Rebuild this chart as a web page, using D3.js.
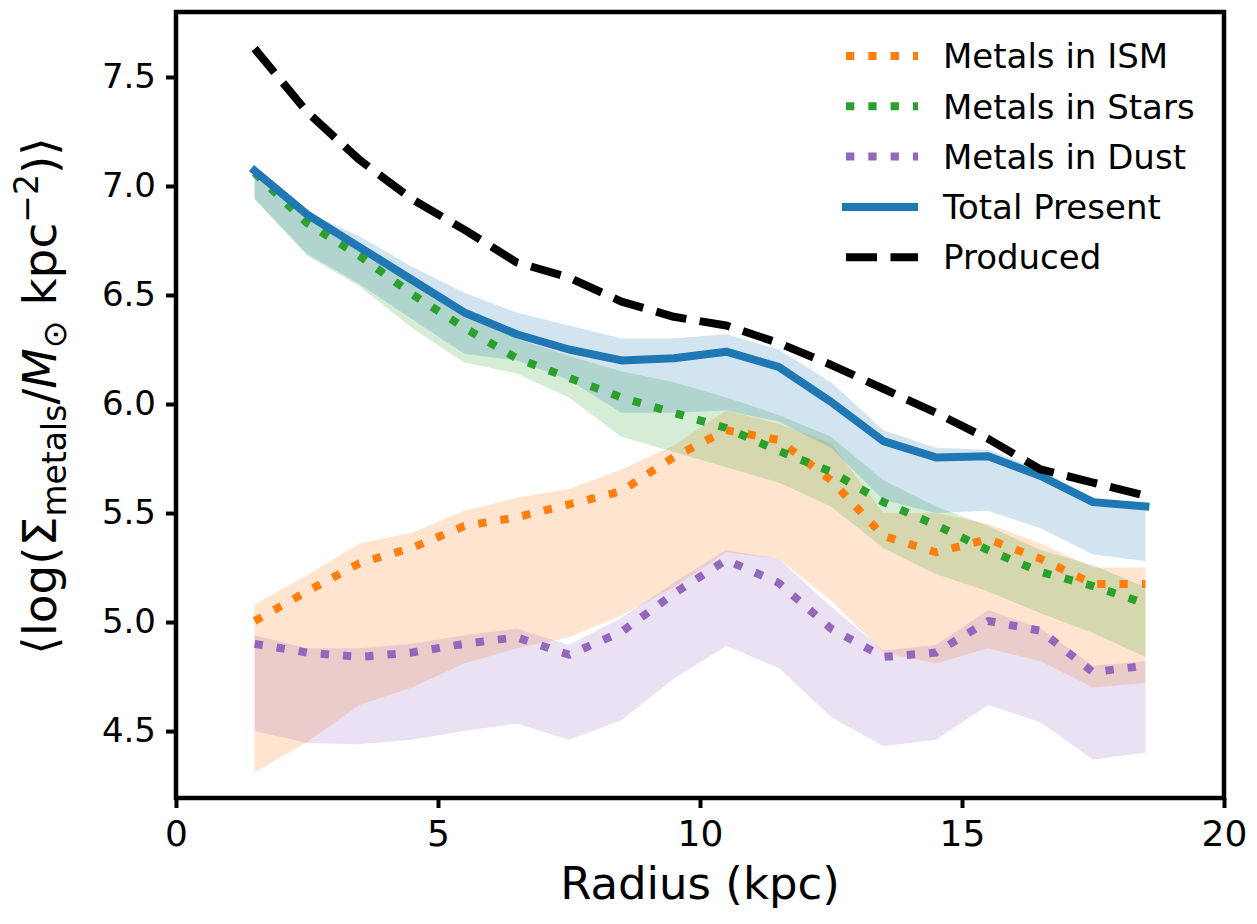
<!DOCTYPE html>
<html>
<head>
<meta charset="utf-8">
<script src="https://cdn.jsdelivr.net/npm/d3@7"></script>
<style>
  html, body { margin: 0; padding: 0; background: #fff; }
  text { font-family: "DejaVu Sans", sans-serif; fill: #000; }
</style>
</head>
<body>
<svg id="chart" width="1257" height="924"></svg>
<script>
// Radial bins (kpc)
const radius = [1.5, 2.5, 3.5, 4.5, 5.5, 6.5, 7.5, 8.5, 9.5, 10.5, 11.5, 12.5, 13.5, 14.5, 15.5, 16.5, 17.5, 18.5];

// Metals in ISM
const ismMean = [5.005, 5.14, 5.27, 5.34, 5.44, 5.48, 5.54, 5.60, 5.757, 5.88, 5.835, 5.65, 5.395, 5.32, 5.38, 5.29, 5.175, 5.175];
const ismHi   = [5.08, 5.215, 5.36, 5.41, 5.51, 5.57, 5.61, 5.70, 5.81, 5.97, 5.91, 5.82, 5.50, 5.50, 5.45, 5.36, 5.25, 5.25];
const ismLo   = [4.31, 4.45, 4.62, 4.70, 4.81, 4.88, 4.93, 5.03, 5.16, 5.32, 5.29, 5.10, 4.86, 4.81, 4.88, 4.82, 4.70, 4.72];

// Metals in stars
const starsMean = [7.06, 6.83, 6.68, 6.505, 6.35, 6.21, 6.12, 6.03, 5.96, 5.89, 5.785, 5.69, 5.55, 5.445, 5.33, 5.23, 5.165, 5.085];
const starsHi   = [7.07, 6.87, 6.72, 6.57, 6.42, 6.30, 6.22, 6.15, 6.10, 6.03, 5.95, 5.85, 5.65, 5.53, 5.44, 5.33, 5.26, 5.16];
const starsLo   = [6.94, 6.68, 6.54, 6.35, 6.19, 6.14, 6.03, 5.85, 5.78, 5.71, 5.64, 5.53, 5.34, 5.22, 5.14, 5.04, 4.95, 4.84];

// Metals in dust
const dustMean = [4.90, 4.86, 4.84, 4.86, 4.90, 4.93, 4.85, 4.955, 5.13, 5.285, 5.18, 4.97, 4.84, 4.86, 5.005, 4.96, 4.77, 4.80];
const dustHi   = [4.94, 4.88, 4.88, 4.90, 4.94, 4.97, 4.895, 5.02, 5.18, 5.33, 5.29, 5.07, 4.87, 4.895, 5.055, 4.97, 4.80, 4.82];
const dustLo   = [4.50, 4.445, 4.44, 4.46, 4.50, 4.535, 4.46, 4.55, 4.74, 4.89, 4.79, 4.565, 4.43, 4.46, 4.62, 4.54, 4.37, 4.40];

// Total metals present
const totalMean = [7.07, 6.87, 6.72, 6.57, 6.42, 6.32, 6.25, 6.20, 6.21, 6.24, 6.17, 6.01, 5.83, 5.755, 5.76, 5.67, 5.55, 5.53];
const totalHi   = [7.07, 6.88, 6.77, 6.63, 6.51, 6.42, 6.36, 6.30, 6.30, 6.32, 6.25, 6.10, 5.88, 5.80, 5.79, 5.70, 5.57, 5.54];
const totalLo   = [6.94, 6.69, 6.55, 6.39, 6.23, 6.20, 6.11, 5.96, 5.96, 5.97, 5.92, 5.80, 5.56, 5.50, 5.51, 5.43, 5.31, 5.28];

// Metals produced
const produced = [7.63, 7.34, 7.12, 6.94, 6.80, 6.65, 6.58, 6.47, 6.40, 6.36, 6.28, 6.18, 6.07, 5.96, 5.84, 5.70, 5.64, 5.58];

const xTicks = [0, 5, 10, 15, 20];
const yTicks = [4.5, 5.0, 5.5, 6.0, 6.5, 7.0, 7.5];

const series = [
  { name: "Metals in ISM",    color: "#ff7f0e", mean: ismMean,   lo: ismLo,   hi: ismHi,   style: "dot" },
  { name: "Metals in Stars",  color: "#2ca02c", mean: starsMean, lo: starsLo, hi: starsHi, style: "dot" },
  { name: "Metals in Dust",   color: "#9467bd", mean: dustMean,  lo: dustLo,  hi: dustHi,  style: "dot" },
  { name: "Total Present",    color: "#1f77b4", mean: totalMean, lo: totalLo, hi: totalHi, style: "solid" },
  { name: "Produced",         color: "#000000", mean: produced,  lo: null,    hi: null,    style: "dash" }
];

const LW = 8;
const dashFor = s => s === "dot" ? "8.3,14" : s === "dash" ? "31,13.5" : null;

const plot = { left: 176, right: 1224, top: 12, bottom: 798 };
const svg = d3.select("#chart");
svg.append("rect").attr("width", 1257).attr("height", 924).attr("fill", "#fff");

const x = d3.scaleLinear().domain([0, 20]).range([plot.left, plot.right]);
const y = d3.scaleLinear().domain([4.193, 7.798]).range([plot.bottom, plot.top]);

svg.append("clipPath").attr("id", "plotclip").append("rect")
  .attr("x", plot.left).attr("y", plot.top)
  .attr("width", plot.right - plot.left).attr("height", plot.bottom - plot.top);

const g = svg.append("g").attr("clip-path", "url(#plotclip)");

const area = d3.area()
  .x((d, i) => x(radius[i]))
  .y0(d => y(d[0]))
  .y1(d => y(d[1]));

const line = d3.line()
  .x((d, i) => x(radius[i]))
  .y(d => y(d));

// shaded spread bands
series.filter(s => s.lo).forEach(s => {
  g.append("path")
    .datum(s.lo.map((v, i) => [v, s.hi[i]]))
    .attr("d", area)
    .attr("fill", s.color)
    .attr("fill-opacity", 0.2)
    .attr("stroke", "none");
});

// mean profiles
series.forEach(s => {
  g.append("path")
    .datum(s.mean)
    .attr("d", line)
    .attr("fill", "none")
    .attr("stroke", s.color)
    .attr("stroke-width", LW)
    .attr("stroke-linejoin", "round")
    .attr("stroke-linecap", s.style === "solid" ? "square" : "butt")
    .attr("stroke-dasharray", dashFor(s.style));
});

// axes frame
svg.append("rect")
  .attr("x", plot.left).attr("y", plot.top)
  .attr("width", plot.right - plot.left).attr("height", plot.bottom - plot.top)
  .attr("fill", "none").attr("stroke", "#000").attr("stroke-width", 4.5);

// bottom axis
const xAxis = svg.append("g").attr("transform", `translate(0,${plot.bottom})`)
  .call(d3.axisBottom(x).tickValues(xTicks).tickSize(10).tickPadding(12).tickFormat(d3.format("d")));
xAxis.select(".domain").remove();
xAxis.selectAll(".tick line").attr("stroke", "#000").attr("stroke-width", 4);
xAxis.selectAll(".tick text").attr("font-size", 36).attr("font-family", "DejaVu Sans");

// left axis
const yAxis = svg.append("g").attr("transform", `translate(${plot.left},0)`)
  .call(d3.axisLeft(y).tickValues(yTicks).tickSize(10).tickPadding(10).tickFormat(d3.format(".1f")));
yAxis.select(".domain").remove();
yAxis.selectAll(".tick line").attr("stroke", "#000").attr("stroke-width", 4);
yAxis.selectAll(".tick text").attr("font-size", 34).attr("font-family", "DejaVu Sans");

// axis titles
svg.append("text")
  .attr("x", (plot.left + plot.right) / 2).attr("y", 899)
  .attr("text-anchor", "middle").attr("font-size", 45)
  .text("Radius (kpc)");

const yl = svg.append("text")
  .attr("transform", "translate(56,396) rotate(-90)")
  .attr("text-anchor", "middle").attr("font-size", 47);
yl.append("tspan").text("\u27E8log(\u03A3");
yl.append("tspan").attr("font-size", 33).attr("dy", 10).text("metals");
yl.append("tspan").attr("dy", -10).text("/");
yl.append("tspan").attr("font-style", "italic").text("M");
yl.append("tspan").attr("font-size", 33).attr("dy", 10).text("\u2299");
yl.append("tspan").attr("dy", -10).text(" kpc");
yl.append("tspan").attr("font-size", 33).attr("dy", -18).text("\u22122");
yl.append("tspan").attr("dy", 18).text(")\u27E9");

// legend
const legend = svg.append("g");
series.forEach((s, i) => {
  const ly = 56 + i * 50.3;
  legend.append("line")
    .attr("x1", 846).attr("x2", s.style === "solid" ? 914 : 918)
    .attr("y1", ly).attr("y2", ly)
    .attr("stroke", s.color).attr("stroke-width", LW)
    .attr("stroke-linecap", s.style === "solid" ? "square" : "butt")
    .attr("stroke-dasharray", dashFor(s.style));
  legend.append("text")
    .attr("x", 943).attr("y", ly).attr("dy", "0.36em")
    .attr("font-size", 34)
    .text(s.name);
});
</script>
</body>
</html>
